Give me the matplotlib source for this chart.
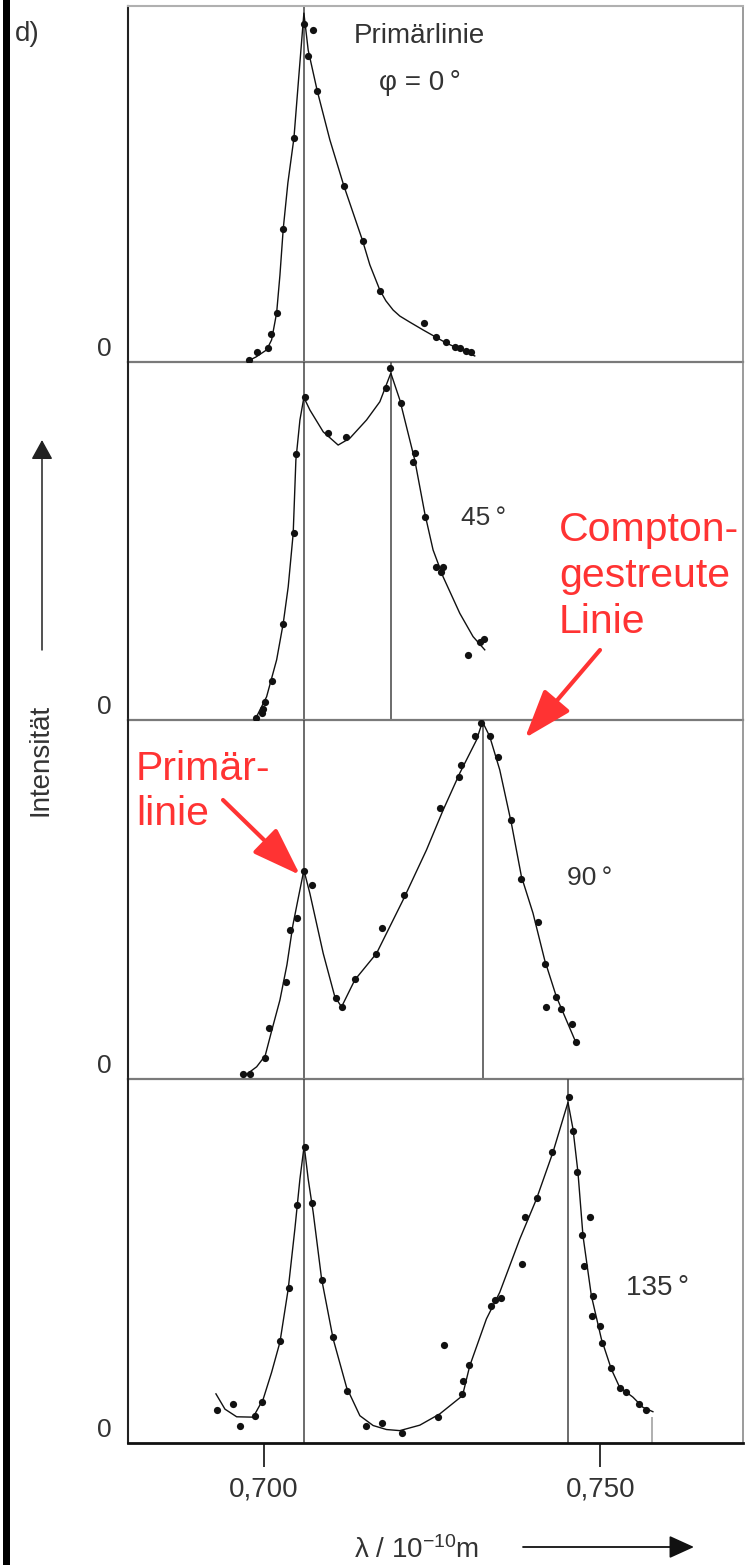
import matplotlib
matplotlib.use("Agg")
import matplotlib.pyplot as plt
from matplotlib.patches import Rectangle, FancyArrowPatch

plt.rcParams['font.family'] = ['Liberation Sans', 'DejaVu Sans']
plt.rcParams['mathtext.fontset'] = 'custom'
plt.rcParams['mathtext.rm'] = 'Liberation Sans'
plt.rcParams['mathtext.it'] = 'Liberation Sans:italic'
plt.rcParams['mathtext.bf'] = 'Liberation Sans:bold'

# ---------------- data: wavelength in 1e-10 m, intensity in % of panel scale
angles = ["0", "45", "90", "135"]
primary_line = 0.70594
compton_lines = [None, 0.71886, 0.73252, 0.74519]

lam_0 = [0.69782, 0.69900, 0.70055, 0.70104, 0.70189, 0.70287, 0.70446, 0.70594,
         0.70658, 0.70723, 0.70792, 0.71188, 0.71466, 0.71723, 0.72376, 0.72554,
         0.72713, 0.72836, 0.72921, 0.73010, 0.73084]
int_0 = [0.6, 2.7, 3.8, 7.8, 13.7, 37.4, 62.8, 95.0, 86.0, 93.3, 76.2, 49.5, 34.1,
         19.9, 11.0, 7.1, 5.5, 4.3, 3.8, 3.2, 2.7]
fit_lam_0 = [0.69743, 0.69881, 0.70040, 0.70114, 0.70189, 0.70238, 0.70287, 0.70356,
             0.70446, 0.70520, 0.70594, 0.70658, 0.70792, 0.70980, 0.71188, 0.71466,
             0.71574, 0.71723, 0.71812, 0.71920, 0.72020, 0.72168, 0.72366, 0.72713,
             0.73133]
fit_int_0 = [0.1, 1.4, 3.4, 6.2, 13.8, 24.4, 37.4, 50.3, 62.9, 80.6, 98.0, 87.6, 76.2,
             62.4, 49.5, 34.1, 27.3, 20.2, 17.2, 14.6, 12.9, 11.2, 9.0, 5.3, 1.7]

lam_45 = [0.69881, 0.69966, 0.69990, 0.70019, 0.70123, 0.70287, 0.70450, 0.70475,
          0.70609, 0.70955, 0.71213, 0.71812, 0.71881, 0.72039, 0.72242, 0.72223,
          0.72395, 0.72554, 0.72663, 0.72639, 0.73040, 0.73208, 0.73271]
int_45 = [0.5, 1.9, 3.0, 4.9, 10.9, 26.8, 52.1, 74.2, 90.1, 80.2, 79.0, 92.8, 98.2,
          88.5, 74.7, 72.1, 56.6, 42.8, 42.8, 41.3, 18.2, 21.9, 22.5]
fit_lam_45 = [0.69866, 0.70040, 0.70189, 0.70287, 0.70361, 0.70435, 0.70475, 0.70535,
              0.70594, 0.70683, 0.70881, 0.71103, 0.71277, 0.71525, 0.71723, 0.71886,
              0.72020, 0.72119, 0.72242, 0.72391, 0.72514, 0.72663, 0.72911, 0.73108,
              0.73282]
fit_int_45 = [0.0, 6.5, 16.8, 27.0, 37.2, 52.1, 72.6, 83.8, 90.1, 86.6, 80.5, 76.8,
              78.7, 83.8, 88.9, 96.9, 89.4, 81.9, 72.6, 57.7, 47.5, 40.0, 29.8, 23.3,
              19.6]

lam_90 = [0.69693, 0.69792, 0.70019, 0.70079, 0.70327, 0.70386, 0.70495, 0.70594,
          0.70708, 0.71069, 0.71154, 0.71351, 0.71663, 0.71748, 0.72083, 0.72614,
          0.72900, 0.72925, 0.73133, 0.73233, 0.73356, 0.73479, 0.73678, 0.73816,
          0.74073, 0.74173, 0.74347, 0.74198, 0.74410, 0.74584, 0.74633]
int_90 = [1.4, 1.4, 5.9, 14.1, 27.1, 41.5, 44.8, 57.8, 54.0, 22.5, 20.0, 27.8, 34.8,
          42.0, 51.3, 75.4, 84.0, 87.5, 95.6, 99.2, 95.6, 89.6, 72.2, 55.6, 43.7, 32.0,
          22.8, 20.1, 19.5, 15.2, 10.2]
fit_lam_90 = [0.69693, 0.69892, 0.70019, 0.70119, 0.70238, 0.70342, 0.70431, 0.70505,
              0.70594, 0.70683, 0.70881, 0.71054, 0.71154, 0.71351, 0.71674, 0.72069,
              0.72416, 0.72663, 0.72911, 0.73159, 0.73248, 0.73356, 0.73505, 0.73678,
              0.73827, 0.73999, 0.74173, 0.74347, 0.74495, 0.74643]
fit_int_90 = [0.6, 3.4, 6.5, 13.7, 22.0, 31.8, 42.9, 49.9, 58.2, 51.7, 35.0, 22.9,
              20.1, 27.6, 35.0, 49.9, 63.8, 74.9, 85.2, 94.4, 99.5, 95.4, 86.1, 71.2,
              56.4, 46.2, 33.1, 22.9, 16.4, 9.9]

lam_135 = [0.69298, 0.69535, 0.69644, 0.69866, 0.69966, 0.70238, 0.70371, 0.70495,
           0.70609, 0.70717, 0.70857, 0.71020, 0.71237, 0.71510, 0.71748, 0.72045,
           0.72584, 0.72673, 0.72951, 0.72960, 0.73049, 0.73371, 0.73430, 0.73530,
           0.73836, 0.73886, 0.74059, 0.74281, 0.74529, 0.74593, 0.74658, 0.74851,
           0.74733, 0.74756, 0.74890, 0.74881, 0.75000, 0.75029, 0.75153, 0.75287,
           0.75376, 0.75569, 0.75683]
int_135 = [9.1, 10.7, 4.8, 7.5, 11.3, 27.9, 42.6, 65.4, 81.4, 65.8, 44.8, 29.2, 14.4,
           4.8, 5.4, 2.7, 7.2, 27.0, 13.5, 17.1, 21.5, 37.7, 39.4, 39.8, 49.2, 62.0,
           67.3, 79.9, 95.0, 85.8, 74.4, 62.0, 57.1, 48.5, 40.5, 35.0, 32.2, 27.4,
           20.5, 15.0, 13.9, 10.7, 9.1]
fit_lam_135 = [0.69287, 0.69421, 0.69595, 0.69841, 0.69990, 0.70114, 0.70238, 0.70361,
               0.70460, 0.70535, 0.70598, 0.70658, 0.70732, 0.70857, 0.71029, 0.71228,
               0.71426, 0.71623, 0.71822, 0.72020, 0.72317, 0.72614, 0.72951, 0.73059,
               0.73307, 0.73505, 0.73802, 0.74050, 0.74296, 0.74519, 0.74593, 0.74667,
               0.74742, 0.74866, 0.75015, 0.75163, 0.75287, 0.75484, 0.75633, 0.75781]
fit_int_135 = [13.5, 9.3, 7.2, 7.1, 12.1, 19.4, 27.7, 42.3, 58.8, 72.5, 81.7, 72.5,
               63.4, 45.1, 28.6, 15.3, 7.5, 4.8, 3.7, 3.4, 4.9, 8.0, 13.0, 21.2, 34.1,
               41.4, 56.0, 67.0, 79.9, 93.6, 86.3, 74.4, 56.9, 40.5, 28.6, 20.3, 15.3,
               12.6, 9.8, 8.6]
end_mark_135 = (0.75766, 7.1)

xticks = [0.700, 0.750]
xticklabels = ["0,700", "0,750"]

dots = [(lam_0, int_0), (lam_45, int_45), (lam_90, int_90), (lam_135, int_135)]
fits = [(fit_lam_0, fit_int_0), (fit_lam_45, fit_int_45),
        (fit_lam_90, fit_int_90), (fit_lam_135, fit_int_135)]

# ---------------- layout helpers (pixel positions on the 745 x 1565 canvas)
W, H = 745, 1565
def fx(px):
    return px / W
def fy(py):
    return 1 - py / H

TXT = '#333333'
RED = '#ff3333'

fig = plt.figure(figsize=(W / 100, H / 100), dpi=100)
fig.patch.set_facecolor('white')

edges = [6, 362, 720, 1079, 1443]
axes = []
for i in range(4):
    top, bot = edges[i], edges[i + 1]
    ax = fig.add_axes([fx(128), fy(bot), fx(743) - fx(128), (bot - top) / H])
    ax.set_xlim(0.6798, 0.7712)
    ax.set_ylim(0, 100)
    ax.set_yticks([])
    ax.patch.set_alpha(0)
    for s in ax.spines.values():
        s.set_linewidth(1.2)
    ax.spines['left'].set_color('#222222')
    ax.spines['left'].set_linewidth(1.5)
    ax.spines['right'].set_color('#8a8a8a')
    if i == 0:
        ax.spines['top'].set_color('#b0b0b0')
        ax.spines['top'].set_linewidth(1.5)
    else:
        ax.spines['top'].set_visible(False)
    if i < 3:
        ax.spines['bottom'].set_color('#7a7a7a')
        ax.spines['bottom'].set_linewidth(1.6)
        ax.set_xticks([])
    else:
        ax.spines['bottom'].set_color('#111111')
        ax.spines['bottom'].set_linewidth(2.0)
        ax.set_xticks(xticks)
        ax.set_xticklabels(xticklabels)
        ax.tick_params(axis='x', direction='out', length=17, width=1.3,
                       color='#222222', pad=7, labelsize=20, labelcolor=TXT)

    ax.axvline(primary_line, color='#444444', lw=1.1, zorder=1)
    if compton_lines[i] is not None:
        ax.axvline(compton_lines[i], color='#444444', lw=1.1, zorder=1)

    ax.plot(fits[i][0], fits[i][1], color='#111111', lw=1.0, zorder=2,
            solid_joinstyle='round')
    ax.plot(dots[i][0], dots[i][1], 'o', ms=5.2, color='#111111', mec='none',
            zorder=3)
    axes.append(ax)

    # zero mark of each intensity scale
    fig.text(fx(104), fy(bot - 6), "0", ha='center', va='baseline',
             fontsize=19, color=TXT)

axes[3].vlines(end_mark_135[0], 0, end_mark_135[1], color='#9a9a9a', lw=1.1)

# ---------------- labels
fig.text(fx(419), fy(43), "Primärlinie", ha='center', va='baseline',
         fontsize=20, color=TXT)
fig.text(fx(420), fy(90), "φ = 0\u2009°", ha='center', va='baseline',
         fontsize=20, color=TXT)
fig.text(fx(461), fy(525), "45\u2009°", ha='left', va='baseline',
         fontsize=19, color=TXT)
fig.text(fx(567), fy(885), "90\u2009°", ha='left', va='baseline',
         fontsize=19, color=TXT)
fig.text(fx(626), fy(1295), "135\u2009°", ha='left', va='baseline',
         fontsize=20, color=TXT)
fig.text(fx(15), fy(41), "d)", ha='left', va='baseline', fontsize=20, color=TXT)

fig.text(fx(40), fy(760), "Intensität", rotation=90, ha='center', va='center',
         fontsize=20, color=TXT)
fig.add_artist(FancyArrowPatch((fx(42), fy(650)), (fx(42), fy(440)),
                               transform=fig.transFigure,
                               arrowstyle='-|>,head_length=1.0,head_width=0.55',
                               mutation_scale=12, lw=1.1, color='#222222',
                               shrinkA=0, shrinkB=0))

fig.text(fx(417), fy(1558), r"λ / 10$^{-10}$m", ha='center', va='baseline',
         fontsize=20, color=TXT)
fig.add_artist(FancyArrowPatch((fx(523), fy(1547)), (fx(694), fy(1547)),
                               transform=fig.transFigure,
                               arrowstyle='-|>,head_length=1.1,head_width=0.5',
                               mutation_scale=14, lw=1.3, color='#111111',
                               shrinkA=0, shrinkB=0))

# ---------------- red call-outs
for txt, yb in [("Compton-", 541), ("gestreute", 587), ("Linie", 633)]:
    fig.text(fx(559), fy(yb), txt, ha='left', va='baseline', fontsize=29.5,
             color=RED)
for txt, yb in [("Primär-", 780), ("linie", 825)]:
    fig.text(fx(136), fy(yb), txt, ha='left', va='baseline', fontsize=29.5,
             color=RED)

for tail, tip in [((600, 650), (525, 738)), ((223, 800), (300, 875))]:
    fig.add_artist(FancyArrowPatch((fx(tail[0]), fy(tail[1])),
                                   (fx(tip[0]), fy(tip[1])),
                                   transform=fig.transFigure,
                                   arrowstyle='-|>,head_length=1.2,head_width=0.42',
                                   mutation_scale=25, lw=3.0, color=RED,
                                   shrinkA=0, shrinkB=0, zorder=6))

# ---------------- page edge: dark bar
fig.add_artist(Rectangle((fx(3), 0), fx(7), 1, transform=fig.transFigure,
                         facecolor='black', edgecolor='none', zorder=10))

fig.savefig("out.png", dpi=100, facecolor='white')
